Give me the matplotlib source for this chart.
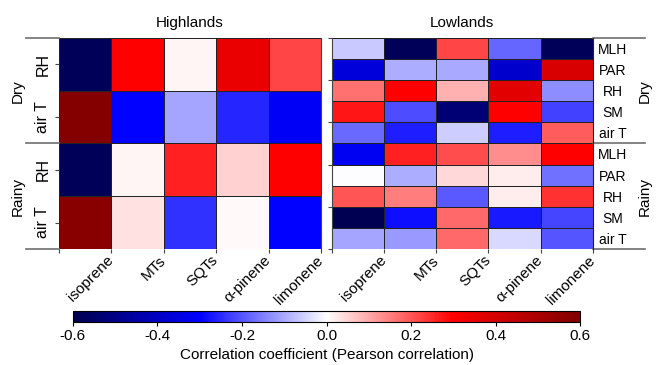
import numpy as np
import matplotlib
matplotlib.use("Agg")
import matplotlib.pyplot as plt
from matplotlib.lines import Line2D
from matplotlib.transforms import ScaledTranslation

plt.rcParams['font.family'] = ['Liberation Sans', 'DejaVu Sans']
plt.rcParams['font.size'] = 10

compounds = ['isoprene', 'MTs', 'SQTs', 'α-pinene', 'limonene']
seasons = ['Dry', 'Rainy']
highland_vars = ['RH', 'air T']
lowland_vars = ['MLH', 'PAR', 'RH', 'SM', 'air T']

# Pearson r, rows = variables, cols = compounds
highlands_dry = [[-0.58, 0.30, 0.01, 0.35, 0.22],
                 [0.59, -0.30, -0.105, -0.255, -0.31]]
highlands_rainy = [[-0.58, 0.012, 0.26, 0.055, 0.30],
                   [0.58, 0.035, -0.24, 0.005, -0.30]]

lowlands_dry = [[-0.065, -0.58, 0.22, -0.18, -0.58],
                [-0.36, -0.095, -0.10, -0.38, 0.39],
                [0.165, 0.30, 0.09, 0.37, -0.135],
                [0.275, -0.21, -0.53, 0.30, -0.225],
                [-0.175, -0.265, -0.06, -0.265, 0.19]]
lowlands_rainy = [[-0.32, 0.26, 0.21, 0.135, 0.30],
                  [-0.003, -0.095, 0.045, 0.02, -0.165],
                  [0.20, 0.15, -0.195, 0.02, 0.24],
                  [-0.59, -0.285, 0.175, -0.27, -0.22],
                  [-0.105, -0.12, 0.175, -0.045, -0.20]]

vmin, vmax = -0.6, 0.6
cmap = 'seismic'
bracket_col = '#6e6e6e'

fig = plt.figure(figsize=(6.57, 3.65), dpi=100)
ax1 = fig.add_axes([0.0893, 0.318, 0.3995, 0.578])
ax2 = fig.add_axes([0.5050, 0.318, 0.3975, 0.578])

high = np.array(highlands_dry + highlands_rainy)
low = np.array(lowlands_dry + lowlands_rainy)

# nudge rotated compound labels so their ends sit at the cell boundary ticks
nudge = ScaledTranslation(-0.05, 0.02, fig.dpi_scale_trans)

for ax, data in ((ax1, high), (ax2, low)):
    mesh = ax.pcolormesh(data, cmap=cmap, vmin=vmin, vmax=vmax,
                         edgecolors='#222222', linewidth=0.7)
    ax.set_xlim(0, data.shape[1])
    ax.set_ylim(data.shape[0], 0)
    ax.set_xticks(np.arange(1, len(compounds) + 1))
    ax.set_xticks([0], minor=True)
    ax.set_xticklabels(compounds, rotation=45, ha='right', va='top',
                       rotation_mode='anchor', fontsize=11)
    ax.tick_params(axis='x', which='both', length=3, width=0.8, color='#444444', pad=1.5)
    for lbl in ax.get_xticklabels():
        lbl.set_transform(lbl.get_transform() + nudge)
    for s in ax.spines.values():
        s.set_visible(False)

# left panel: highlands
ax1.set_title('Highlands', fontsize=11, pad=8)
ax1.set_yticks(np.arange(len(high)) + 0.5)
ax1.set_yticklabels(highland_vars * 2, rotation=90, va='center', fontsize=11.5)
ax1.tick_params(axis='y', length=3, width=0.8, color='#444444', pad=3)
ax1.spines['right'].set_visible(True)
ax1.spines['right'].set_color('#444444')
for yy in (0, 2, 4):
    ax1.add_line(Line2D([-0.126, 0], [1 - yy / 4, 1 - yy / 4], transform=ax1.transAxes,
                        color=bracket_col, lw=1.2, clip_on=False))
for i, s in enumerate(seasons):
    ax1.text(-0.155, 1 - (2 * i + 1) / 4, s, transform=ax1.transAxes, rotation=90,
             ha='center', va='center', fontsize=11)

# right panel: lowlands
ax2.set_title('Lowlands', fontsize=11, pad=8)
ax2.set_yticks(np.arange(len(low)) + 0.5)
ax2.set_yticklabels(lowland_vars * 2, fontsize=10)
ax2.tick_params(axis='y', left=False, labelleft=False, right=True, labelright=True,
                length=0, pad=14.4)
for lbl in ax2.get_yticklabels():
    lbl.set_horizontalalignment('center')
ax2.set_yticks(np.arange(0, len(low) + 1, 2), minor=True)
ax2.tick_params(axis='y', which='minor', left=True, right=False, length=3, width=0.8,
                color='#444444')
ax2.spines['left'].set_visible(True)
ax2.spines['left'].set_color('#444444')
ax2.spines['right'].set_visible(True)
ax2.spines['right'].set_color('#222222')
for yy in (0, 5, 10):
    ax2.add_line(Line2D([1, 1.2], [1 - yy / 10, 1 - yy / 10], transform=ax2.transAxes,
                        color=bracket_col, lw=1.2, clip_on=False))
for i, s in enumerate(seasons):
    ax2.text(1.2, 1 - (2 * i + 1) / 4, s, transform=ax2.transAxes, rotation=90,
             ha='center', va='center', fontsize=11)

# colorbar
cax = fig.add_axes([0.111, 0.118, 0.772, 0.031])
cb = fig.colorbar(mesh, cax=cax, orientation='horizontal')
cb.set_ticks(np.arange(-0.6, 0.61, 0.2))
cb.ax.set_xticklabels(['-0.6', '-0.4', '-0.2', '0.0', '0.2', '0.4', '0.6'])
cb.ax.tick_params(length=3, width=0.8, labelsize=11, pad=2)
cb.outline.set_linewidth(0.8)
cb.set_label('Correlation coefficient (Pearson correlation)', fontsize=11, labelpad=4)

fig.savefig('out.png', dpi=100)
